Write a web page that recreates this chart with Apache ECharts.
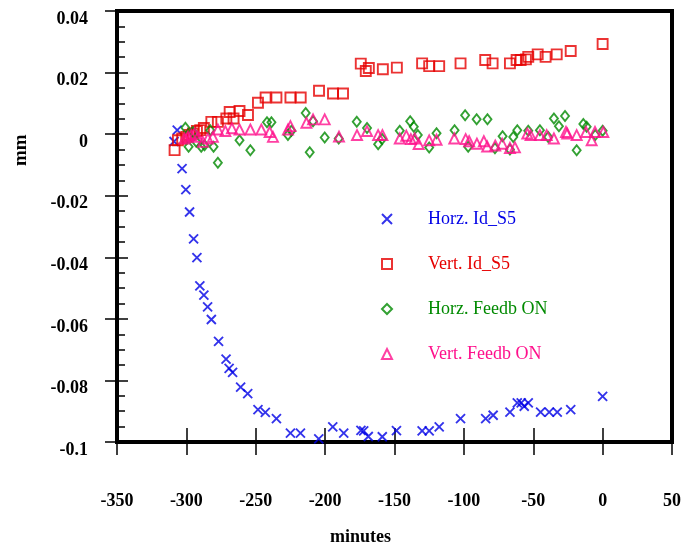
<!DOCTYPE html>
<html>
<head>
<meta charset="utf-8">
<script src="https://cdn.jsdelivr.net/npm/echarts@6/dist/echarts.min.js"></script>
<style>
  html, body { margin: 0; padding: 0; background: #fff; }
  #chart { width: 688px; height: 545px; }
</style>
</head>
<body>
<div id="chart"></div>
<script>
// x: minutes, y: mm
const horzIdX = [-306.6, -308.9, -303.1, -300.4, -297.7, -294.8, -292.4, -290.3, -287.4, -284.7, -282.0, -276.8, -271.4, -269.2, -266.7, -260.9, -255.8, -248.4, -243.1, -235.1, -225.0, -217.8, -204.6, -194.5, -186.6, -174.2, -172.2, -168.9, -158.8, -148.6, -130.1, -125.0, -117.8, -102.4, -84.3, -78.9, -66.8, -61.5, -58.7, -56.5, -53.6, -44.7, -38.5, -32.7, -23.0, 0];
const horzIdY = [0.0013, -0.0024, -0.0112, -0.0180, -0.0253, -0.0340, -0.0401, -0.0493, -0.0523, -0.0561, -0.0602, -0.0673, -0.0731, -0.0761, -0.0774, -0.0822, -0.0843, -0.0895, -0.0904, -0.0924, -0.0971, -0.0971, -0.0990, -0.0951, -0.0971, -0.0962, -0.0964, -0.0982, -0.0983, -0.0963, -0.0964, -0.0964, -0.0951, -0.0924, -0.0924, -0.0913, -0.0903, -0.0873, -0.0873, -0.0884, -0.0873, -0.0903, -0.0903, -0.0903, -0.0895, -0.0852];

const vertIdX = [-308.5, -306.1, -303.0, -300.1, -297.7, -295.3, -292.4, -290.0, -287.4, -282.0, -277.3, -271.2, -268.8, -266.0, -261.7, -255.6, -248.4, -242.9, -235.1, -225.0, -217.6, -204.4, -194.3, -187.1, -174.3, -170.7, -168.5, -158.4, -148.3, -130.1, -125.0, -117.8, -102.4, -84.6, -79.3, -66.8, -62.0, -59.1, -55.3, -53.6, -46.8, -41.1, -33.1, -23.0, 0];
const vertIdY = [-0.0052, -0.0020, -0.0014, -0.0009, -0.0003, 0.0002, 0.0010, 0.0013, 0.0020, 0.0040, 0.0040, 0.0051, 0.0072, 0.0051, 0.0075, 0.0062, 0.0102, 0.0119, 0.0119, 0.0119, 0.0119, 0.0141, 0.0132, 0.0132, 0.0229, 0.0205, 0.0215, 0.0211, 0.0216, 0.0230, 0.0221, 0.0221, 0.0230, 0.0241, 0.0230, 0.0230, 0.0241, 0.0241, 0.0243, 0.0251, 0.0259, 0.0251, 0.0259, 0.0270, 0.0293];

const horzFbX = [-300.7, -298.4, -295.3, -292.9, -289.3, -286.9, -282.8, -280.4, -277.3, -261.7, -253.9, -241.9, -238.7, -226.8, -224.3, -214.0, -211.1, -208.7, -200.3, -190.2, -177.2, -169.8, -161.8, -158.9, -146.2, -138.7, -136.1, -133.2, -125.0, -119.7, -106.7, -99.1, -96.9, -90.8, -83.0, -77.6, -72.1, -66.8, -64.4, -61.5, -53.6, -45.2, -39.2, -35.1, -31.5, -27.1, -18.7, -13.9, -11.5, -5.3, 0];
const horzFbY = [0.0021, -0.0041, 0.0007, -0.0025, -0.0041, -0.0036, 0.0013, -0.0041, -0.0093, -0.0020, -0.0052, 0.0039, 0.0039, -0.0003, 0.0011, 0.0069, -0.0059, 0.0042, -0.0011, -0.0014, 0.0040, 0.0020, -0.0033, -0.0016, 0.0011, 0.0042, 0.0024, -0.0003, -0.0043, 0.0003, 0.0013, 0.0061, -0.0041, 0.0048, 0.0048, -0.0046, -0.0007, -0.0050, -0.0009, 0.0013, 0.0011, 0.0013, -0.0009, 0.0051, 0.0026, 0.0059, -0.0052, 0.0033, 0.0024, -0.0003, 0.0011];

const vertFbX = [-301.3, -298.9, -296.5, -294.1, -291.7, -288.1, -284.5, -280.9, -277.3, -271.9, -267.2, -261.7, -253.9, -246.0, -240.0, -237.6, -226.8, -225.0, -213.5, -208.7, -200.3, -190.0, -177.0, -169.8, -161.8, -158.7, -146.2, -141.5, -138.2, -135.4, -132.6, -125.0, -119.7, -106.9, -98.7, -96.2, -90.6, -85.6, -83.2, -77.4, -72.4, -66.8, -63.2, -54.3, -51.9, -45.2, -40.3, -35.1, -26.4, -25.5, -18.7, -12.0, -7.9, -5.5, 0.5];
const vertFbY = [-0.0014, -0.0009, -0.0003, 0.0002, -0.0009, -0.0025, -0.0014, -0.0009, 0.0015, 0.0010, 0.0019, 0.0015, 0.0015, 0.0015, 0.0007, -0.0009, 0.0015, 0.0026, 0.0037, 0.0048, 0.0048, -0.0008, -0.0003, 0.0010, -0.0003, -0.0003, -0.0014, -0.0005, -0.0016, -0.0014, -0.0032, -0.0020, -0.0018, -0.0014, -0.0016, -0.0023, -0.0031, -0.0023, -0.0040, -0.0037, -0.0031, -0.0045, -0.0043, 0.0002, -0.0003, -0.0003, -0.0003, -0.0014, 0.0007, 0.0002, -0.0003, 0.0007, -0.0020, 0.0007, 0.0007];

const seriesNames = ['Horz. Id_S5', 'Vert. Id_S5', 'Horz. Feedb ON', 'Vert. Feedb ON'];
const seriesColors = ['#0000e6', '#e60000', '#008a00', '#ff108c'];

const font = "'Liberation Serif', 'Times New Roman', serif";

function pairs(xs, ys) {
  return xs.map((x, i) => [x, ys[i]]);
}

const chart = echarts.init(document.getElementById('chart'));

const tickLabel = { fontFamily: font, fontWeight: 'bold', fontSize: 18, color: '#000' };

function scatter(name, data, symbol, size, color) {
  return {
    name: name,
    type: 'scatter',
    data: data,
    symbol: symbol,
    symbolSize: size,
    itemStyle: { color: 'transparent', borderColor: color, borderWidth: 1.9 },
    emphasis: { disabled: true }
  };
}

chart.setOption({
  animation: false,
  grid: {
    left: 117, right: 16, top: 11, bottom: 103,
    show: true, borderColor: '#000', borderWidth: 4, backgroundColor: 'transparent'
  },
  xAxis: [
    {
      type: 'value', position: 'bottom', min: -350, max: 50, interval: 50,
      axisLine: { show: true, onZero: false, lineStyle: { color: '#000', width: 4 } },
      axisTick: { show: true, inside: false, length: 13, lineStyle: { color: '#000', width: 1.5 } },
      axisLabel: Object.assign({ margin: 50 }, tickLabel),
      splitLine: { show: false }
    },
    {
      type: 'value', position: 'bottom', min: -350, max: 50, interval: 50,
      axisLine: { show: false, onZero: false },
      axisTick: { show: true, inside: true, length: 14, lineStyle: { color: '#000', width: 1.5 } },
      axisLabel: { show: false },
      splitLine: { show: false }
    }
  ],
  yAxis: [
    {
      type: 'value', position: 'left', min: -0.1, max: 0.04, interval: 0.02,
      axisLine: { show: true, onZero: false, lineStyle: { color: '#000', width: 4 } },
      axisTick: { show: true, inside: false, length: 12, lineStyle: { color: '#000', width: 1.5 } },
      axisLabel: Object.assign({
        margin: 29,
        verticalAlign: 'top',
        lineHeight: 16,
        formatter: v => String(parseFloat(v.toFixed(3)))
      }, tickLabel),
      splitLine: { show: false }
    },
    {
      type: 'value', position: 'left', min: -0.1, max: 0.04, interval: 0.02,
      axisLine: { show: false, onZero: false },
      axisTick: { show: true, inside: true, length: 11, lineStyle: { color: '#000', width: 1.5 } },
      minorTick: { show: true, splitNumber: 4, length: 8, lineStyle: { color: '#000', width: 1.5 } },
      axisLabel: { show: false },
      splitLine: { show: false }
    }
  ],
  legend: {
    orient: 'vertical',
    left: 376, top: 204,
    itemWidth: 10, itemHeight: 10,
    itemGap: 25,
    textStyle: { fontFamily: font, fontSize: 18, lineHeight: 20, padding: [0, 0, 0, 31] },
    data: seriesNames.map((n, i) => ({ name: n, textStyle: { color: seriesColors[i] } }))
  },
  graphic: [
    {
      type: 'text', left: 330, top: 528,
      style: { text: 'minutes', font: 'bold 18px ' + font, fill: '#000' }
    },
    {
      type: 'text', x: 12, y: 166, rotation: Math.PI / 2,
      style: { text: 'mm', font: 'bold 19px ' + font, fill: '#000' }
    }
  ],
  series: [
    scatter(seriesNames[0], pairs(horzIdX, horzIdY), 'path://M0,0L10,10M10,0L0,10', 9, seriesColors[0]),
    scatter(seriesNames[1], pairs(vertIdX, vertIdY), 'rect', 10, seriesColors[1]),
    scatter(seriesNames[2], pairs(horzFbX, horzFbY), 'diamond', [8, 10], seriesColors[2]),
    scatter(seriesNames[3], pairs(vertFbX, vertFbY), 'triangle', 10, seriesColors[3])
  ]
});
</script>
</body>
</html>
